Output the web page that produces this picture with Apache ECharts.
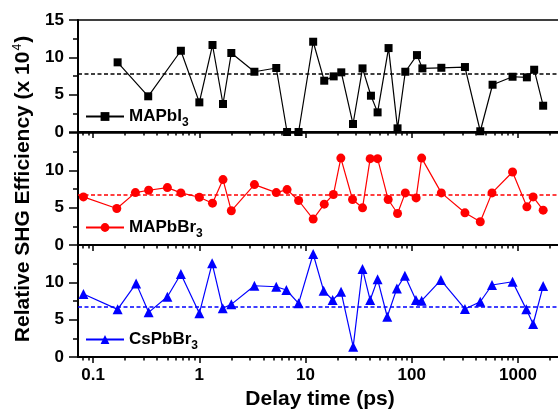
<!DOCTYPE html>
<html>
<head>
<meta charset="utf-8">
<style>
  html, body { margin: 0; padding: 0; background: #fff; }
  #chart { width: 558px; height: 414px; }
</style>
<script src="https://cdn.jsdelivr.net/npm/echarts@6/dist/echarts.min.js"></script>
</head>
<body>
<div id="chart"></div>
<script>
// Delay times (ps) and relative SHG efficiency (x 10^4) for each perovskite
const timesMAPbI3 = [0.17, 0.33, 0.67, 1.0, 1.33, 1.67, 2.0, 3.3, 5.3, 6.7, 8.6, 11.8, 15, 18.4, 21.7, 28, 34.4, 41.3, 47.7, 60.5, 73.5, 87, 112, 126, 190, 317, 442, 577, 890, 1214, 1422, 1728];
const valuesMAPbI3 = [9.33, 4.78, 10.88, 3.97, 11.65, 3.75, 10.58, 8.07, 8.57, 0.0, 0.0, 12.09, 6.87, 7.45, 7.99, 1.07, 8.52, 4.86, 2.63, 11.24, 0.49, 8.07, 10.3, 8.52, 8.6, 8.7, 0.1, 6.33, 7.4, 7.32, 8.34, 3.52];

const timesMAPbBr3 = [0.081, 0.167, 0.25, 0.333, 0.5, 0.67, 1.0, 1.33, 1.67, 2.0, 3.3, 5.3, 6.7, 8.6, 11.8, 15, 18.3, 21.5, 27.7, 34.4, 40.6, 47.7, 60, 73.5, 87, 110, 124, 190, 317, 442, 570, 890, 1214, 1390, 1728];
const valuesMAPbBr3 = [6.44, 4.89, 7.02, 7.33, 7.69, 6.98, 6.4, 5.6, 8.76, 4.58, 8.09, 7.02, 7.42, 5.96, 3.47, 5.47, 6.76, 11.64, 6.09, 4.98, 11.56, 11.56, 6.09, 4.22, 6.98, 6.31, 11.64, 6.98, 4.31, 3.11, 6.98, 9.78, 5.11, 6.44, 4.67];

const timesCsPbBr3 = [0.081, 0.17, 0.254, 0.333, 0.5, 0.67, 1.0, 1.32, 1.66, 2.0, 3.3, 5.3, 6.6, 8.6, 11.8, 14.8, 18, 21.6, 28.1, 34.4, 40.6, 47.7, 58.8, 72.5, 86.2, 109.5, 124, 188, 317, 442, 570, 890, 1200, 1390, 1728];
const valuesCsPbBr3 = [8.43, 6.38, 9.86, 5.98, 8.07, 11.11, 5.85, 12.54, 6.52, 7.05, 9.54, 9.41, 8.97, 7.19, 13.79, 8.88, 7.63, 8.74, 1.38, 11.78, 7.63, 10.4, 5.39, 9.19, 10.88, 7.63, 7.54, 10.3, 6.43, 7.4, 9.64, 10.08, 6.38, 4.42, 9.5];

// Average levels drawn as dashed reference lines
const meanLevels = [7.8, 6.75, 6.7];

// Series names, colours and markers (top to bottom)
const seriesNames = ['MAPbI3', 'MAPbBr3', 'CsPbBr3'];
const seriesColors = ['#000000', '#ff0000', '#0000ff'];
const seriesSymbols = ['rect', 'circle', 'triangle'];
const seriesSymbolSizes = [8, 9, 10];

// Axis ticks
const xMajorTicks = [0.1, 1, 10, 100, 1000];
const xMinorTicks = [0.08, 0.09,
  0.2, 0.3, 0.4, 0.5, 0.6, 0.7, 0.8, 0.9,
  2, 3, 4, 5, 6, 7, 8, 9,
  20, 30, 40, 50, 60, 70, 80, 90,
  200, 300, 400, 500, 600, 700, 800, 900,
  2000];
const xLabels = ['0.1', '1', '10', '100', '1000'];
const yTicks = [0, 5, 10, 15];

const FONT = '"Liberation Sans", Arial, Helvetica, sans-serif';
const X_MIN = 0.072, X_MAX = 2600;

const seriesTimes = [timesMAPbI3, timesMAPbBr3, timesCsPbBr3];
const seriesValues = [valuesMAPbI3, valuesMAPbBr3, valuesCsPbBr3];

const gridTops = [20, 133, 245];
const gridH = 112;

const grids = gridTops.map(t => ({
  left: 78, width: 484, top: t, height: gridH,
  outerBoundsMode: 'none',
  containLabel: false,
  show: true, borderColor: '#000', borderWidth: 1.5, backgroundColor: 'transparent'
}));

const xAxes = [];
const yAxes = [];
gridTops.forEach((t, i) => {
  const isBottom = i === 2;
  // major ticks + axis line
  xAxes.push({
    type: 'log', gridIndex: i, min: X_MIN, max: X_MAX, position: 'bottom',
    axisLine: { show: true, onZero: false, lineStyle: { color: '#000', width: 2 } },
    axisTick: { show: true, inside: false, length: 6, lineStyle: { color: '#000', width: 1.5 }, customValues: xMajorTicks },
    axisLabel: {
      show: isBottom, customValues: xMajorTicks, margin: 10,
      color: '#000', fontFamily: FONT, fontWeight: 'bold', fontSize: 17,
      formatter: v => { const k = xMajorTicks.findIndex(m => Math.abs(Math.log10(m) - Math.log10(v)) < 1e-6); return k >= 0 ? xLabels[k] : ''; }
    },
    splitLine: { show: false },
    name: isBottom ? 'Delay time (ps)' : '',
    nameLocation: 'middle', nameGap: 32,
    nameTextStyle: { color: '#000', fontFamily: FONT, fontWeight: 'bold', fontSize: 21 }
  });
  // minor ticks
  xAxes.push({
    type: 'log', gridIndex: i, min: X_MIN, max: X_MAX, position: 'bottom',
    axisLine: { show: false, onZero: false },
    axisTick: { show: true, inside: false, length: 3.5, lineStyle: { color: '#000', width: 1.5 }, customValues: xMinorTicks },
    axisLabel: { show: false },
    splitLine: { show: false }
  });
  yAxes.push({
    type: 'value', gridIndex: i, min: yTicks[0], max: yTicks[yTicks.length - 1], interval: 5,
    axisLine: { show: true, onZero: false, lineStyle: { color: '#000', width: 2 } },
    axisTick: { show: true, inside: false, length: 9, lineStyle: { color: '#000', width: 1.5 } },
    minorTick: { show: true, splitNumber: 2, length: 5, lineStyle: { color: '#000', width: 1.5 } },
    axisLabel: {
      showMaxLabel: i === 0, margin: 14,
      color: '#000', fontFamily: FONT, fontWeight: 'bold', fontSize: 17
    },
    splitLine: { show: false },
    minorSplitLine: { show: false },
    name: i === 1 ? '{t|Relative SHG Efficiency (x 10}{sup|4}{t|)}' : '',
    nameLocation: 'middle', nameGap: 40,
    nameTextStyle: {
      rich: {
        t: { color: '#000', fontFamily: FONT, fontWeight: 'bold', fontSize: 21 },
        sup: { color: '#000', fontFamily: FONT, fontWeight: 'normal', fontSize: 12, padding: [0, 1, 12, 1] }
      }
    }
  });
});

const series = seriesNames.map((name, i) => ({
  name: name,
  type: 'line',
  xAxisIndex: i * 2,
  yAxisIndex: i,
  data: seriesTimes[i].map((t, k) => [t, seriesValues[i][k]]),
  symbol: seriesSymbols[i],
  symbolSize: seriesSymbolSizes[i],
  showAllSymbol: true,
  clip: false,
  color: seriesColors[i],
  lineStyle: { color: seriesColors[i], width: 1.2 },
  itemStyle: { color: seriesColors[i] },
  markLine: {
    silent: true,
    symbol: ['none', 'none'],
    label: { show: false },
    lineStyle: { color: seriesColors[i], type: [4, 2.5], width: 1.6 },
    data: [{ yAxis: meanLevels[i] }]
  },
  animation: false
}));

const legendCenters = [121, 232, 344];
const legends = seriesNames.map((name, i) => ({
  data: [name],
  left: 85,
  top: legendCenters[i] - 13,
  padding: 0,
  itemWidth: 38,
  itemHeight: 11,
  selectedMode: false,
  formatter: n => '{n|' + n.slice(0, -1) + '}{s|' + n.slice(-1) + '}',
  textStyle: {
    rich: {
      n: { color: '#000', fontFamily: FONT, fontWeight: 'bold', fontSize: 17 },
      s: { color: '#000', fontFamily: FONT, fontWeight: 'bold', fontSize: 12, padding: [13, 0, 0, 0] }
    }
  }
}));

const chart = echarts.init(document.getElementById('chart'), null, { renderer: 'canvas' });
chart.setOption({
  animation: false,
  backgroundColor: '#fff',
  grid: grids,
  xAxis: xAxes,
  yAxis: yAxes,
  legend: legends,
  series: series
});
</script>
</body>
</html>
